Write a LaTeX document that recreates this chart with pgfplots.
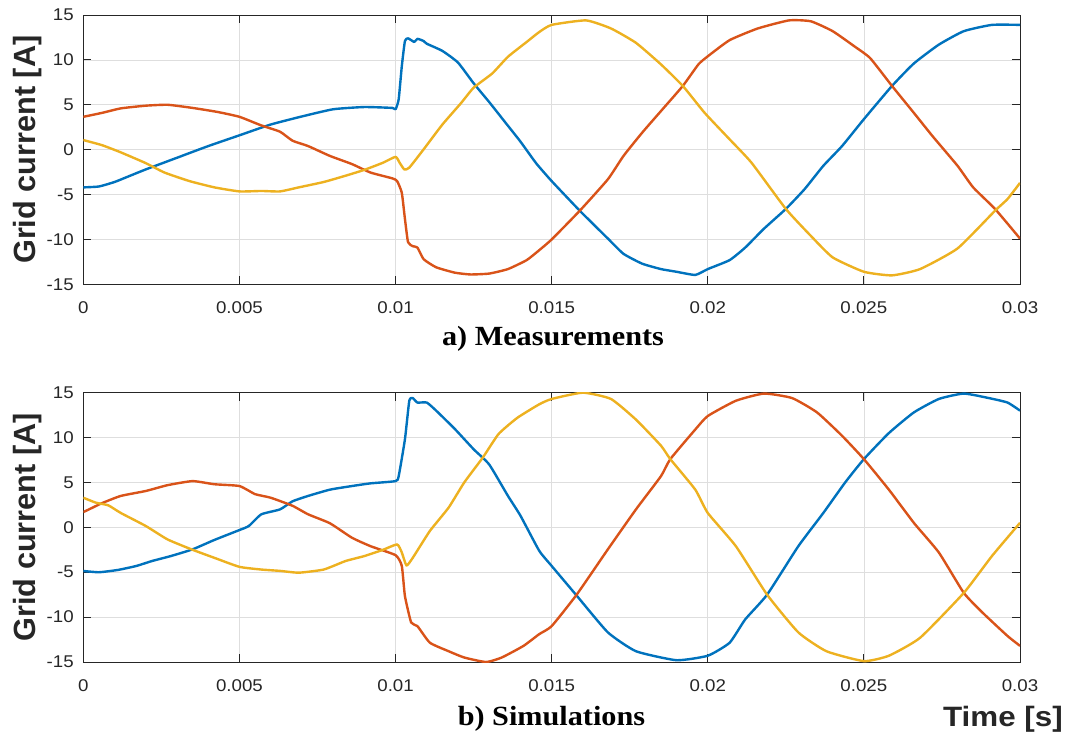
\documentclass[border=0pt]{standalone}
\usepackage{fontspec}
\setmainfont{Liberation Sans}
\newfontfamily\tickfont[FakeStretch=1.1]{Liberation Sans}
\newfontfamily\timefont[FakeStretch=1.12]{Liberation Sans}
\newfontfamily\capfont[FakeStretch=1.09]{Liberation Serif}
\usepackage{pgfplots}
\pgfplotsset{compat=1.18}

\definecolor{mblue}{RGB}{0,114,189}
\definecolor{morange}{RGB}{217,83,25}
\definecolor{myellow}{RGB}{237,177,32}
\definecolor{axgray}{RGB}{38,38,38}

\pgfplotsset{
  panel/.style={
    scale only axis,
    width=702.5pt, height=202pt,
    xmin=0, xmax=0.03, ymin=-15, ymax=15,
    scaled x ticks=false,
    xtick={0,0.005,0.01,0.015,0.02,0.025,0.03},
    xticklabels={0,0.005,0.01,0.015,0.02,0.025,0.03},
    ytick={-15,-10,-5,0,5,10,15},
    yticklabels={-15,-10,-5,0,5,10,15},
    grid=major,
    major grid style={line width=0.5pt, color=black!13},
    axis line style={line width=0.6pt, color=axgray},
    tick style={line width=0.6pt, color=axgray},
    tick align=inside, major tick length=6pt,
    tick label style={font=\tickfont\fontsize{12.75}{14}\selectfont, text=axgray, inner sep=0pt},
    xticklabel style={anchor=center, yshift=-17.8pt},
    yticklabel style={anchor=east, xshift=-7pt},
    ylabel={Grid current [A]},
    ylabel style={at={(axis description cs:-0.06,0.5)}, anchor=center,
      font=\bfseries\fontsize{23}{26}\selectfont, text=axgray},
    every axis plot/.append style={line width=1.8pt, line join=round, smooth, tension=0.3},
  }
}

\begin{document}
\begin{tikzpicture}
\useasboundingbox (0,0) rectangle (800.25pt,-555pt);

% a) measurements
\begin{axis}[panel, at={(62.5pt,-11.25pt)}, anchor=north west]
\addplot[color=mblue] coordinates {
(0,-4.2)(0.0005,-4.1)(0.001,-3.6)(0.0015,-2.9)(0.002,-2.2)(0.003,-0.9)(0.004,0.4)(0.005,1.6)
(0.006,2.8)(0.007,3.7)(0.008,4.5)(0.009,4.75)(0.0099,4.65)(0.01,4.5)(0.0101,5.6)(0.0102,9.3)
(0.0103,12.1)(0.0104,12.4)(0.0106,12.0)(0.0107,12.35)(0.0109,12.1)(0.011,11.8)(0.0115,11.0)
(0.012,9.7)(0.0125,7.4)(0.013,5.3)(0.0135,3.1)(0.014,0.9)(0.0145,-1.5)(0.015,-3.5)(0.0159,-6.8)
(0.0168,-9.9)(0.0173,-11.6)(0.0179,-12.7)(0.0185,-13.3)(0.019,-13.6)(0.0196,-13.95)(0.02,-13.3)
(0.0207,-12.3)(0.0212,-10.9)(0.0218,-8.8)(0.0225,-6.6)(0.0231,-4.4)(0.0237,-1.8)(0.0243,0.4)
(0.025,3.4)(0.0259,7.1)(0.0266,9.6)(0.0274,11.7)(0.0282,13.2)(0.0291,13.9)(0.03,13.9)
};
\addplot[color=morange] coordinates {
(0,3.66)(0.0006,4.1)(0.0012,4.6)(0.002,4.9)(0.0027,5.0)(0.0035,4.65)(0.0043,4.2)(0.005,3.66)
(0.0057,2.7)(0.0063,2.0)(0.0067,1.0)(0.0072,0.4)(0.0079,-0.7)(0.0086,-1.6)(0.0092,-2.55)
(0.0099,-3.2)(0.01005,-3.5)(0.0102,-4.8)(0.0103,-7.7)(0.0104,-10.3)(0.01055,-10.75)(0.0107,-10.9)
(0.0109,-12.2)(0.0113,-13.1)(0.0119,-13.7)(0.0124,-13.9)(0.013,-13.8)(0.0136,-13.3)(0.0142,-12.3)
(0.0146,-11.2)(0.015,-10.0)(0.0159,-6.8)(0.0168,-3.3)(0.0173,-0.7)(0.0179,1.9)(0.0185,4.3)
(0.0192,7.1)(0.0197,9.5)(0.02,10.4)(0.0207,12.2)(0.0216,13.5)(0.0226,14.4)(0.0233,14.3)
(0.024,13.2)(0.0247,11.5)(0.0252,10.2)(0.0259,7.1)(0.0266,4.1)(0.0272,1.5)(0.028,-1.8)
(0.0285,-4.2)(0.0292,-6.6)(0.03,-9.9)
};
\addplot[color=myellow] coordinates {
(0,1.07)(0.0006,0.5)(0.0012,-0.3)(0.002,-1.5)(0.0026,-2.55)(0.0034,-3.5)(0.0042,-4.2)(0.005,-4.65)
(0.0057,-4.6)(0.0063,-4.65)(0.0069,-4.2)(0.0077,-3.6)(0.0084,-2.9)(0.009,-2.25)(0.0096,-1.45)
(0.01,-0.8)(0.01013,-1.45)(0.01028,-2.2)(0.01044,-2.0)(0.0109,0.04)(0.0115,2.8)(0.0121,5.2)
(0.0125,6.9)(0.0131,8.5)(0.0136,10.35)(0.0142,12.0)(0.0146,13.1)(0.015,13.9)(0.0161,14.4)
(0.0169,13.5)(0.0177,11.9)(0.0185,9.5)(0.0192,7.1)(0.0199,4.1)(0.0207,1.15)(0.0214,-1.45)
(0.0225,-6.6)(0.0233,-9.6)(0.024,-12.0)(0.025,-13.6)(0.0259,-14.0)(0.0268,-13.3)(0.028,-11.0)
(0.0292,-6.8)(0.0296,-5.5)(0.03,-3.7)
};
\end{axis}

% b) simulations
\begin{axis}[panel, at={(62.5pt,-294.5pt)}, anchor=north west,
  xlabel={Time [s]},
  xlabel style={at={(axis description cs:1,0)}, anchor=base east, inner sep=0pt,
    xshift=32.25pt, yshift=-48.5pt, font=\timefont\bfseries\fontsize{21}{23}\selectfont, text=axgray}]
\addplot[color=mblue] coordinates {
(0,-4.86)(0.0005,-5.0)(0.0011,-4.75)(0.0017,-4.3)(0.0022,-3.75)(0.0028,-3.2)(0.0035,-2.45)
(0.0042,-1.4)(0.005,-0.3)(0.0053,0.15)(0.0057,1.45)(0.0063,2.0)(0.0067,2.9)(0.0072,3.5)
(0.0079,4.2)(0.0086,4.6)(0.0092,4.9)(0.01,5.15)(0.0101,5.7)(0.0103,9.8)(0.01044,14.1)
(0.01055,14.4)(0.0107,13.9)(0.011,13.9)(0.0113,13.0)(0.0119,10.95)(0.0125,8.7)(0.013,7.0)
(0.0136,3.5)(0.014,1.3)(0.0146,-2.6)(0.015,-4.3)(0.0158,-7.6)(0.0168,-11.7)(0.0177,-13.8)
(0.019,-14.8)(0.02,-14.3)(0.0207,-12.85)(0.0212,-10.25)(0.0219,-7.5)(0.0229,-2.1)(0.0237,1.6)
(0.0244,5.0)(0.025,7.6)(0.0258,10.5)(0.0266,12.8)(0.0274,14.3)(0.0282,14.9)(0.029,14.4)
(0.0296,13.9)(0.03,13.0)
};
\addplot[color=morange] coordinates {
(0,1.7)(0.0003,2.2)(0.0006,2.7)(0.0012,3.5)(0.002,4.05)(0.0027,4.7)(0.0035,5.15)(0.0042,4.8)
(0.005,4.6)(0.0055,3.7)(0.006,3.3)(0.0067,2.4)(0.0072,1.45)(0.0079,0.45)(0.0086,-1.15)
(0.0092,-2.1)(0.01,-3.1)(0.0102,-4.3)(0.0103,-7.65)(0.0105,-10.6)(0.0107,-11.0)(0.0111,-12.85)
(0.0117,-13.8)(0.0122,-14.5)(0.0129,-15.0)(0.0134,-14.5)(0.0141,-13.2)(0.0146,-11.9)(0.015,-11.0)
(0.0158,-7.5)(0.0168,-2.45)(0.0177,2.0)(0.0185,5.7)(0.0188,7.6)(0.0196,10.9)(0.02,12.4)
(0.0209,14.1)(0.0218,14.9)(0.0227,14.4)(0.0235,12.8)(0.0243,10.2)(0.025,7.6)(0.0258,4.2)
(0.0266,0.5)(0.0274,-2.8)(0.0282,-7.3)(0.0288,-9.5)(0.0296,-12.1)(0.03,-13.2)
};
\addplot[color=myellow] coordinates {
(0,3.3)(0.0004,2.75)(0.0008,2.45)(0.0012,1.6)(0.002,0.15)(0.0027,-1.35)(0.0035,-2.5)(0.0042,-3.4)
(0.005,-4.4)(0.0057,-4.7)(0.0063,-4.85)(0.0069,-5.05)(0.0077,-4.7)(0.0084,-3.75)(0.009,-3.2)
(0.0096,-2.5)(0.01005,-1.9)(0.0102,-2.8)(0.01035,-4.25)(0.01055,-3.4)(0.0111,-0.4)(0.0117,2.2)
(0.0122,5.0)(0.0128,7.8)(0.0133,10.4)(0.0139,12.2)(0.0146,13.7)(0.015,14.3)(0.016,15.0)
(0.0169,14.3)(0.0177,12.0)(0.0185,9.1)(0.0188,7.6)(0.0196,4.2)(0.02,1.6)(0.0209,-2.1)
(0.0219,-7.5)(0.0229,-11.7)(0.0238,-13.8)(0.025,-14.9)(0.0258,-14.3)(0.0268,-12.3)(0.0282,-7.3)
(0.0291,-3.2)(0.03,0.5)
};
\end{axis}

\node[anchor=base, inner sep=0pt, font=\capfont\bfseries\fontsize{20.8}{23}\selectfont]
  at (414.75pt,-258.75pt) {a) Measurements};
\node[anchor=base, inner sep=0pt, font=\capfont\bfseries\fontsize{20.8}{23}\selectfont]
  at (413.6pt,-543.75pt) {b) Simulations};
\end{tikzpicture}
\end{document}
